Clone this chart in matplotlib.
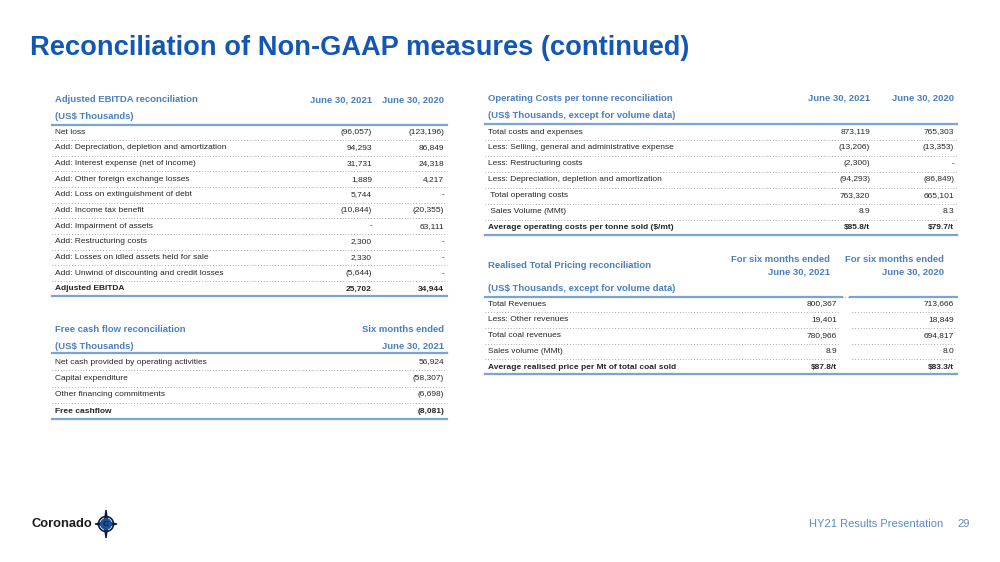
import matplotlib
matplotlib.use("Agg")
import matplotlib.pyplot as plt
from matplotlib.patches import Circle, Polygon

plt.rcParams['font.family'] = ['Liberation Sans', 'DejaVu Sans']

# ---- data ----
ebitda_labels = ["Net loss",
                 "Add: Depreciation, depletion and amortization",
                 "Add: Interest expense (net of income)",
                 "Add: Other foreign exchange losses",
                 "Add: Loss on extinguishment of debt",
                 "Add: Income tax benefit",
                 "Add: Impairment of assets",
                 "Add: Restructuring costs",
                 "Add: Losses on idled assets held for sale",
                 "Add: Unwind of discounting and credit losses",
                 "Adjusted EBITDA"]
ebitda_2021 = ["(96,057)", "94,293", "31,731", "1,889", "5,744", "(10,844)", "-",
               "2,300", "2,330", "(5,644)", "25,702"]
ebitda_2020 = ["(123,196)", "86,849", "24,318", "4,217", "-", "(20,355)", "63,111",
               "-", "-", "-", "34,944"]

fcf_labels = ["Net cash provided by operating activities",
              "Capital expenditure",
              "Other financing commitments",
              "Free cashflow"]
fcf_2021 = ["56,924", "(58,307)", "(6,698)", "(8,081)"]

opcost_labels = ["Total costs and expenses",
                 "Less: Selling, general and administrative expense",
                 "Less: Restructuring costs",
                 "Less: Depreciation, depletion and amortization",
                 " Total operating costs",
                 " Sales Volume (MMt)",
                 "Average operating costs per tonne sold ($/mt)"]
opcost_2021 = ["873,119", "(13,206)", "(2,300)", "(94,293)", "763,320", "8.9", "$85.8/t"]
opcost_2020 = ["765,303", "(13,353)", "-", "(86,849)", "665,101", "8.3", "$79.7/t"]

price_labels = ["Total Revenues",
                "Less: Other revenues",
                "Total coal revenues",
                "Sales volume (MMt)",
                "Average realised price per Mt of total coal sold"]
price_2021 = ["800,367", "19,401", "780,966", "8.9", "$87.8/t"]
price_2020 = ["713,666", "18,849", "694,817", "8.0", "$83.3/t"]

TITLE_BLUE = "#1257b4"
HEAD_BLUE = "#4a7fc1"
LINE_BLUE = "#7ba3d4"
DOT_GREY = "#8a8a8a"
TXT = "#262626"
FS = 6.0
HFS = 6.8

fig = plt.figure(figsize=(10, 5.62), dpi=100)
ax = fig.add_axes([0, 0, 1, 1])
ax.set_xlim(0, 1000)
ax.set_ylim(562, 0)
ax.axis("off")

ax.text(29.5, 48, "Reconciliation of Non-GAAP measures (continued)", fontsize=19.6,
        fontweight="bold", color=TITLE_BLUE, va="center", ha="left")


def rows(ax, x0, x1, y_first, pitch, labels, cols, col_x, segs=None):
    # segs: list of (start, end) for the dotted separators
    if segs is None:
        segs = [(x0, x1)]
    n = len(labels)
    for i, lab in enumerate(labels):
        y = y_first + i * pitch
        bold = i == n - 1
        fw = "bold" if bold else "normal"
        ax.text(x0 + 3, y, lab, fontsize=FS, color=TXT, va="center", ha="left", fontweight=fw)
        for vals, cx in zip(cols, col_x):
            ax.text(cx, y, vals[i], fontsize=FS, color=TXT, va="center", ha="right", fontweight=fw)
        if i < n - 1:
            for s0, s1 in segs:
                ax.plot([s0, s1], [y + pitch / 2, y + pitch / 2], color=DOT_GREY, lw=0.7,
                        linestyle=(0, (0.7, 2.2)))
    yb = y_first + (n - 1) * pitch + 7
    ax.plot([x0, x1], [yb, yb], color=LINE_BLUE, lw=1.6)


def head(x, y, s, ha="left"):
    ax.text(x, y, s, fontsize=HFS, fontweight="bold", color=HEAD_BLUE, va="center", ha=ha)


# Adjusted EBITDA
head(55, 100, "Adjusted EBITDA reconciliation")
head(55, 116.5, "(US$ Thousands)")
head(372, 100, "June 30, 2021", "right")
head(444, 100, "June 30, 2020", "right")
ax.plot([52, 447], [124.5, 124.5], color=LINE_BLUE, lw=1.6)
rows(ax, 52, 447, 132, 15.7, ebitda_labels, [ebitda_2021, ebitda_2020], [372, 444])

# Free cash flow
head(55, 329.5, "Free cash flow reconciliation")
head(55, 346.5, "(US$ Thousands)")
head(444, 329.5, "Six months ended", "right")
head(444, 346.5, "June 30, 2021", "right")
ax.plot([52, 447], [352.5, 352.5], color=LINE_BLUE, lw=1.6)
rows(ax, 52, 447, 362, 16.5, fcf_labels, [fcf_2021], [444])

# Operating costs per tonne
head(488, 98.5, "Operating Costs per tonne reconciliation")
head(488, 116, "(US$ Thousands, except for volume data)")
head(870, 98.5, "June 30, 2021", "right")
head(954, 98.5, "June 30, 2020", "right")
ax.plot([485, 957], [124, 124], color=LINE_BLUE, lw=1.6)
rows(ax, 485, 957, 132, 15.95, opcost_labels, [opcost_2021, opcost_2020], [870, 954])

# Realised pricing
head(488, 266, "Realised Total Pricing reconciliation")
head(488, 288.5, "(US$ Thousands, except for volume data)")
head(830, 260, "For six months ended", "right")
head(830, 271.5, "June 30, 2021", "right")
head(944, 260, "For six months ended", "right")
head(944, 271.5, "June 30, 2020", "right")
ax.plot([485, 842], [296.5, 296.5], color=LINE_BLUE, lw=1.6)
ax.plot([850, 957], [296.5, 296.5], color=LINE_BLUE, lw=1.6)
ax.plot([842, 850], [296.5, 296.5], color=DOT_GREY, lw=0.7, linestyle=(0, (0.7, 2.2)))
rows(ax, 485, 957, 304, 15.8, price_labels, [price_2021, price_2020], [837, 954],
     segs=[(485, 838), (852, 954)])

# footer
ax.text(943, 524, "HY21 Results Presentation", fontsize=8.0, color="#5a8ac6", va="center", ha="right")
ax.text(970, 524, "29", fontsize=8.0, color="#5a8ac6", va="center", ha="right")

# logo
ax.text(32, 524, "Coronado", fontsize=9.3, fontweight="bold", color="#1a1a1a", va="center", ha="left")
cx, cy = 106, 524
ax.add_patch(Polygon([[cx, cy - 14], [cx + 2, cy], [cx, cy + 14], [cx - 2, cy]], closed=True,
                     color="#0e1f3d", zorder=3))
ax.add_patch(Polygon([[cx - 11, cy], [cx, cy - 2], [cx + 11, cy], [cx, cy + 2]], closed=True,
                     color="#0e1f3d", zorder=3))
ax.add_patch(Circle((cx, cy), 7.5, fill=False, ec="#0e1f3d", lw=1.2, zorder=4))
ax.add_patch(Circle((cx, cy), 5.2, color="#1f4f9a", zorder=5))
ax.text(cx, cy + 0.3, "C", fontsize=6, fontweight="bold", color="#0e1f3d", va="center", ha="center", zorder=6)

fig.savefig("out.png", dpi=100)
